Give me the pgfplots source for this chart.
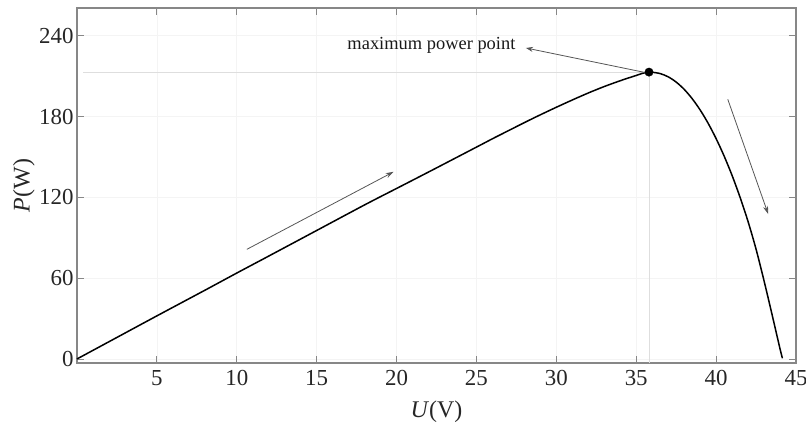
\documentclass[border=0pt]{standalone}
\usepackage{pgfplots}
\pgfplotsset{compat=1.18}
\usepackage{fontspec}
\setmainfont{Liberation Serif}
\usetikzlibrary{arrows.meta}
\definecolor{axgray}{RGB}{135,135,135}
\definecolor{gridc}{RGB}{244,244,244}
\definecolor{refc}{RGB}{222,222,222}
\definecolor{arrc}{RGB}{85,85,85}
\begin{document}
\begin{tikzpicture}[x=1bp,y=1bp]
\begin{axis}[
  at={(0,0)}, anchor=south west,
  scale only axis,
  width=719bp, height=355bp,
  xmin=0, xmax=45, ymin=-3, ymax=260.6,
  xtick={5,10,...,45},
  ytick={0,60,120,180,240},
  tick align=inside,
  major tick length=7bp,
  axis line style={axgray, line width=1.2bp},
  every tick/.style={axgray, line width=0.9bp},
  grid=major,
  major grid style={gridc, line width=0.6bp},
  /pgf/number format/assume math mode=true,
  tick label style={font=\fontsize{23}{26}\selectfont, text=black!85},
  xticklabel style={yshift=-4bp},
  yticklabel style={xshift=0bp},
  xlabel={\textit{U}(V)},
  ylabel={\textit{P}(W)},
  label style={font=\fontsize{24}{27}\selectfont, text=black!85},
  xlabel style={at={(axis description cs:0.5,0)}, anchor=center, yshift=-49bp},
  ylabel style={at={(axis description cs:0,0.5)}, anchor=center, yshift=53bp},
  clip=false,
]
% reference lines to the maximum power point
\addplot[refc, line width=0.8bp] coordinates {(0.4,213) (35.8,213)};
\addplot[refc, line width=0.8bp] coordinates {(35.8,-3) (35.8,213)};
% P-U curve
\addplot[black, line width=1.5bp, smooth] coordinates {
(0,0) (2,12.8) (5,32.0) (8,51.0) (10,63.8) (12,76.4) (15,95.4) (18,114.4)
(20,126.6) (22,138.8) (25,157.3) (26,163.5) (27,169.5) (28,175.5)
(29,181.3) (30,186.9) (31,192.3) (32,197.5) (33,202.3) (34,206.6)
(34.5,208.6) (35,210.5) (35.4,212.1) (35.8,213.0) (36,212.9)
(36.5,211.9) (37,209.5) (37.5,205.6) (38,200.2) (38.5,193.3) (39,184.9)
(39.5,175.0) (40,163.6) (40.5,150.7) (41,136.2) (41.5,120.0) (42,102.0)
(42.5,81.5) (43,58.0) (43.5,33.0) (44,7.5) (44.15,0.5)
};
% maximum power point
\addplot[only marks, mark=*, mark size=4.2bp, black] coordinates {(35.8,213)};
% annotations
\draw[arrc, line width=0.8bp, -{Stealth[length=7bp,width=5bp]}] (axis cs:35.6,212.6) -- (axis cs:28.1,230.9);
\node[anchor=east, inner sep=0pt, font=\fontsize{18.5}{21}\selectfont, text=black!90] at (axis cs:27.45,233.1) {maximum power point};
\draw[arrc, line width=0.8bp, -{Stealth[length=8bp,width=5bp]}] (axis cs:10.63,81.4) -- (axis cs:19.82,139);
\draw[arrc, line width=0.8bp, -{Stealth[length=8bp,width=5bp]}] (axis cs:40.73,192.8) -- (axis cs:43.26,107.6);
\end{axis}
\pgfresetboundingbox
\path (-77,-62) rectangle (729,363);
\end{tikzpicture}
\end{document}
